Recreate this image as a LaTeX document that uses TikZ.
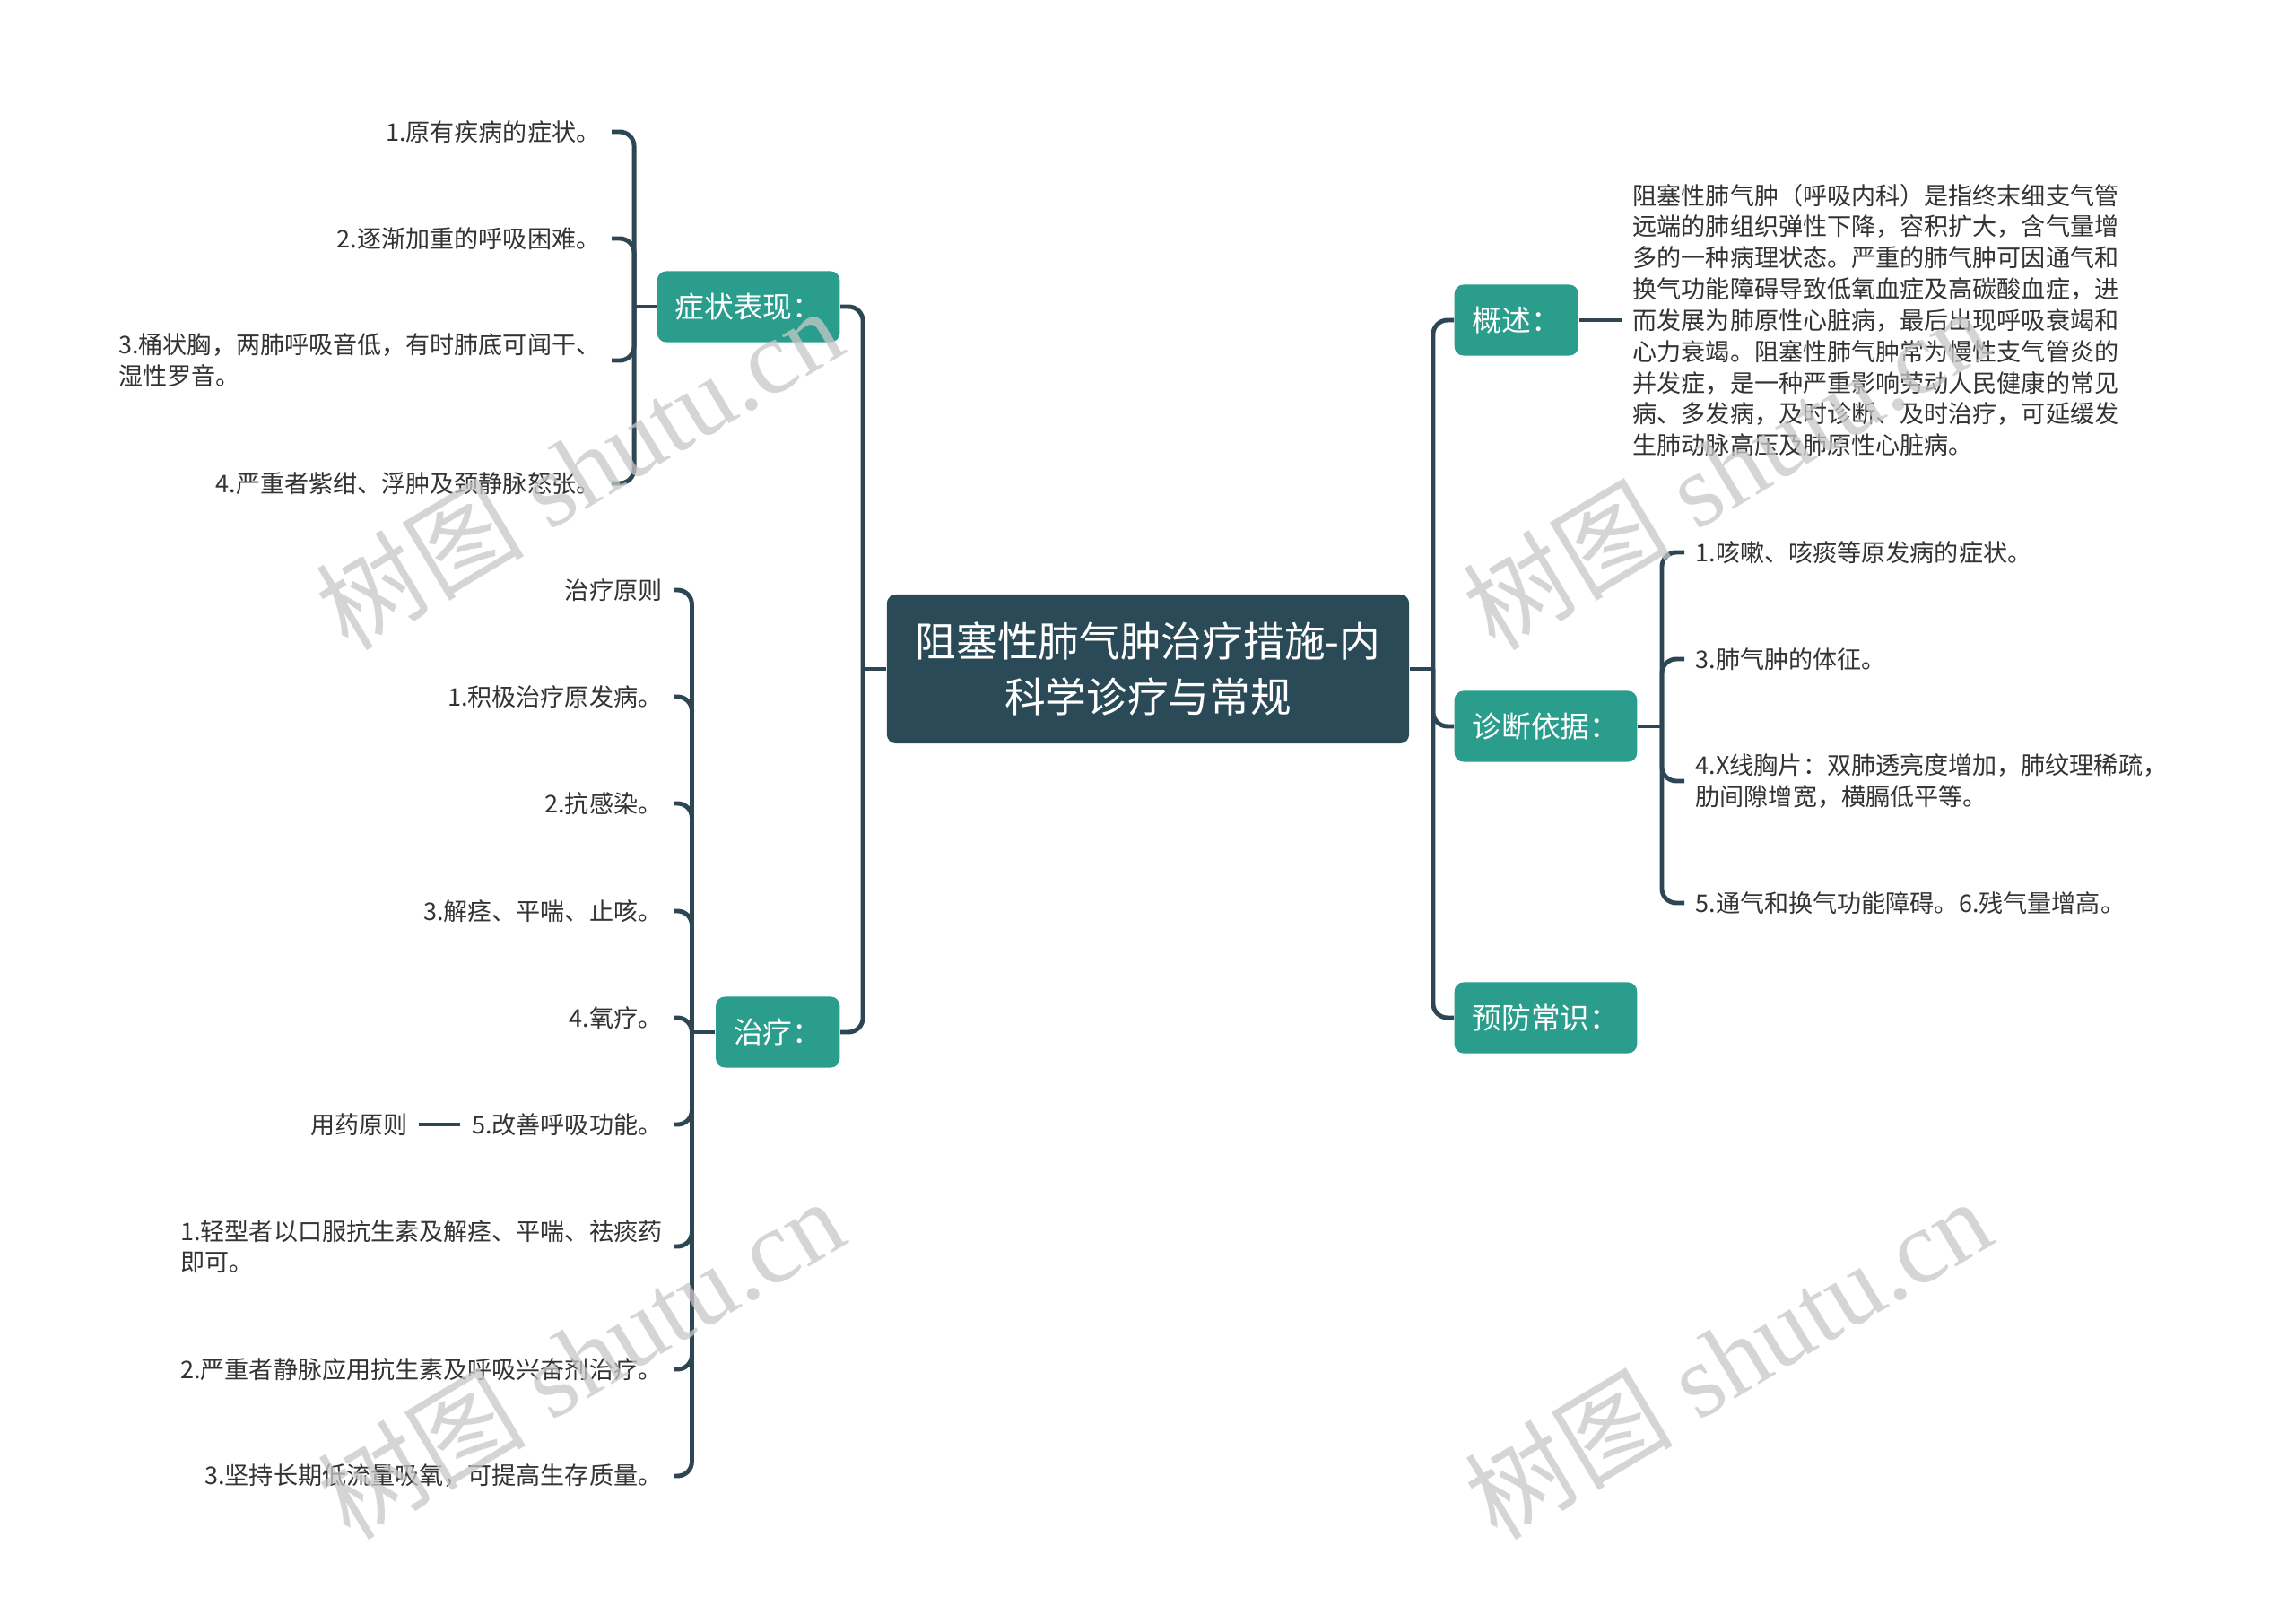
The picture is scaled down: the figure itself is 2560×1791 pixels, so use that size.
\documentclass[tikz,border=0pt]{standalone}
\usepackage{fontspec}
\newfontfamily\cjk{Noto Sans CJK SC}
\newfontfamily\wmfont{Liberation Serif}
\usetikzlibrary{positioning}

\definecolor{rootfill}{HTML}{2B4A57}
\definecolor{branchfill}{HTML}{2A9D8C}
\definecolor{linecol}{HTML}{2C4653}
\definecolor{leaftext}{HTML}{333333}
\definecolor{wmgray}{HTML}{C8C8C8}

\begin{document}
\begin{tikzpicture}[x=0.01cm, y=-0.01cm,
    root/.style={fill=rootfill, text=white, rounded corners=0.1cm, align=center,
        minimum width=5.82cm, minimum height=1.66cm, font=\cjk\fontsize{13}{17.6}\selectfont},
    branch/.style={fill=branchfill, text=white, rounded corners=0.1cm,
        minimum height=0.79cm, inner xsep=0.2cm, font=\cjk\fontsize{9.3}{11}\selectfont},
    leaf/.style={text=leaftext, align=left, inner xsep=0.12cm, inner ysep=0.08cm,
        font=\cjk\fontsize{7.7}{9.9}\selectfont},
    conn/.style={draw=linecol, line width=1.4pt, rounded corners=0.16cm},
    wm/.style={text=wmgray, text opacity=0.75, rotate=31,
        font=\wmfont\fontsize{33}{33}\selectfont}]

    % page
    \path[use as bounding box, fill=white] (0,0) rectangle (2560,1791);

    % root
    \node[root] (root) at (1280,746) {阻塞性肺气肿治疗措施-内\\科学诊疗与常规};

    % main branches
    \node[branch, anchor=east] (sym) at (937,342) {症状表现：};
    \node[branch, anchor=east] (cure) at (937,1151) {治疗：};
    \node[branch, anchor=west] (gist) at (1621,357) {概述：};
    \node[branch, anchor=west] (diag) at (1621,810) {诊断依据：};
    \node[branch, anchor=west] (prev) at (1621,1135) {预防常识：};

    % symptoms
    \node[leaf, anchor=east] (s1) at (682,147) {1.原有疾病的症状。};
    \node[leaf, anchor=east] (s2) at (682,266) {2.逐渐加重的呼吸困难。};
    \node[leaf, anchor=east] (s3) at (682,402) {3.桶状胸，两肺呼吸音低，有时肺底可闻干、\\湿性罗音。};
    \node[leaf, anchor=east] (s4) at (682,539) {4.严重者紫绀、浮肿及颈静脉怒张。};

    % treatment
    \node[leaf, anchor=east] (t0) at (751,658) {治疗原则};
    \node[leaf, anchor=east] (t1) at (751,777) {1.积极治疗原发病。};
    \node[leaf, anchor=east] (t2) at (751,896) {2.抗感染。};
    \node[leaf, anchor=east] (t3) at (751,1016) {3.解痉、平喘、止咳。};
    \node[leaf, anchor=east] (t4) at (751,1135) {4.氧疗。};
    \node[leaf, anchor=east] (t5) at (751,1254) {5.改善呼吸功能。};
    \node[leaf, left=0.46cm of t5] (drug) {用药原则};
    \node[leaf, anchor=east] (t6) at (751,1390) {1.轻型者以口服抗生素及解痉、平喘、祛痰药\\即可。};
    \node[leaf, anchor=east] (t7) at (751,1527) {2.严重者静脉应用抗生素及呼吸兴奋剂治疗。};
    \node[leaf, anchor=east] (t8) at (751,1646) {3.坚持长期低流量吸氧，可提高生存质量。};

    % overview text
    \node[leaf, anchor=west] (gtxt) at (1808,357) {阻塞性肺气肿（呼吸内科）是指终末细支气管\\
        远端的肺组织弹性下降，容积扩大，含气量增\\
        多的一种病理状态。严重的肺气肿可因通气和\\
        换气功能障碍导致低氧血症及高碳酸血症，进\\
        而发展为肺原性心脏病，最后出现呼吸衰竭和\\
        心力衰竭。阻塞性肺气肿常为慢性支气管炎的\\
        并发症，是一种严重影响劳动人民健康的常见\\
        病、多发病，及时诊断、及时治疗，可延缓发\\
        生肺动脉高压及肺原性心脏病。};

    % diagnosis
    \node[leaf, anchor=west] (d1) at (1878,616) {1.咳嗽、咳痰等原发病的症状。};
    \node[leaf, anchor=west] (d3) at (1878,735) {3.肺气肿的体征。};
    \node[leaf, anchor=west] (d4) at (1878,871) {4.X线胸片：双肺透亮度增加，肺纹理稀疏，\\肋间隙增宽，横膈低平等。};
    \node[leaf, anchor=west] (d5) at (1878,1007) {5.通气和换气功能障碍。6.残气量增高。};

    % connectors: stub to the spine, then one rounded elbow per child
    \draw[conn] (root.west) -- ++(-26,0) coordinate (rootl);
    \draw[conn] (root.east) -- ++(26,0) coordinate (rootr);
    \draw[conn] (sym.west) -- ++(-25,0) coordinate (symj);
    \draw[conn] (cure.west) -- ++(-26,0) coordinate (curej);
    \draw[conn] (diag.east) -- ++(27,0) coordinate (diagj);
    \foreach \n in {sym,cure} \draw[conn] (rootl) |- (\n.east);
    \foreach \n in {gist,diag,prev} \draw[conn] (rootr) |- (\n.west);
    \foreach \n in {s1,s2,s3,s4} \draw[conn] (symj) |- (\n.east);
    \foreach \n in {t0,t1,t2,t3,t4,t5,t6,t7,t8} \draw[conn] (curej) |- (\n.east);
    \foreach \n in {d1,d3,d4,d5} \draw[conn] (diagj) |- (\n.west);
    \draw[conn] (gist.east) -- (gtxt.west);
    \draw[conn] (t5.west) -- (drug.east);

    % watermarks
    \node[wm] (wm1) at (645,522) {{\cjk 树图} shutu.cn};
    \node[wm] (wm2) at (1924,522) {{\cjk 树图} shutu.cn};
    \node[wm] (wm3) at (647,1514) {{\cjk 树图} shutu.cn};
    \node[wm] (wm4) at (1926,1514) {{\cjk 树图} shutu.cn};
\end{tikzpicture}
\end{document}
